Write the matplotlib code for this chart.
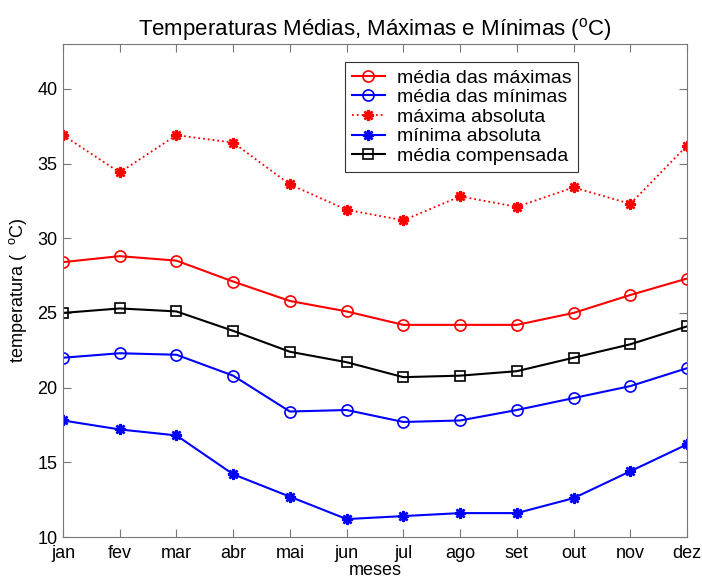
import matplotlib.pyplot as plt

plt.rcParams['font.family'] = ['Liberation Sans', 'DejaVu Sans']
plt.rcParams['mathtext.fontset'] = 'custom'
plt.rcParams['mathtext.rm'] = 'Liberation Sans'
plt.rcParams['mathtext.it'] = 'Liberation Sans'

meses = ["jan", "fev", "mar", "abr", "mai", "jun", "jul", "ago", "set", "out", "nov", "dez"]
media_max = [28.4, 28.8, 28.5, 27.1, 25.8, 25.1, 24.2, 24.2, 24.2, 25.0, 26.2, 27.3]
media_min = [22.0, 22.3, 22.2, 20.8, 18.4, 18.5, 17.7, 17.8, 18.5, 19.3, 20.1, 21.3]
max_abs = [36.9, 34.4, 36.9, 36.4, 33.6, 31.9, 31.2, 32.8, 32.1, 33.4, 32.3, 36.2]
min_abs = [17.8, 17.2, 16.8, 14.2, 12.7, 11.2, 11.4, 11.6, 11.6, 12.6, 14.4, 16.2]
media_comp = [25.0, 25.3, 25.1, 23.8, 22.4, 21.7, 20.7, 20.8, 21.1, 22.0, 22.9, 24.1]

x = range(1, 13)
star = (8, 2, 0)  # matlab-style asterisk

fig = plt.figure(figsize=(7.02, 5.83), dpi=100)
ax = fig.add_axes([0.0897, 0.0789, 0.889, 0.8456])

ax.plot(x, media_max, color="red", marker="o", mfc="none", ms=8, mew=1.2, lw=1.5, label="média das máximas")
ax.plot(x, media_min, color="blue", marker="o", mfc="none", ms=8, mew=1.2, lw=1.5, label="média das mínimas")
ax.plot(x, max_abs, color="red", marker=star, ms=8, mew=1.8, lw=1.3, ls=":", label="máxima absoluta")
ax.plot(x, min_abs, color="blue", marker=star, ms=8, mew=1.8, lw=1.5, label="mínima absoluta")
ax.plot(x, media_comp, color="black", marker="s", mfc="none", ms=7, mew=1.2, lw=1.5, label="média compensada")

ax.set_xlim(1, 12)
ax.set_ylim(10, 43)
ax.set_xticks(list(x))
ax.set_xticklabels(meses)
ax.set_yticks([10, 15, 20, 25, 30, 35, 40])
ax.tick_params(direction="in", labelsize=13, length=6, right=True, top=True, colors="#777777",
               labelcolor="black", pad=4)
ax.tick_params(axis="x", pad=6)
for s in ax.spines.values():
    s.set_color("#777777")

ax.set_title("Temperaturas Médias, Máximas e Mínimas ($^{o}$C)", fontsize=16, pad=6)
ax.set_xlabel("meses", fontsize=13, labelpad=0)
ax.set_ylabel("temperatura (  $^{o}$C)", fontsize=13, labelpad=6)

leg = ax.legend(loc="upper left", bbox_to_anchor=(0.452, 0.963), fontsize=14, frameon=True,
                fancybox=False, edgecolor="black", handlelength=1.7, borderpad=0.35,
                labelspacing=0.1, handletextpad=0.6, numpoints=1, borderaxespad=0)
leg.get_frame().set_linewidth(0.8)

fig.savefig("out.png", dpi=100)
